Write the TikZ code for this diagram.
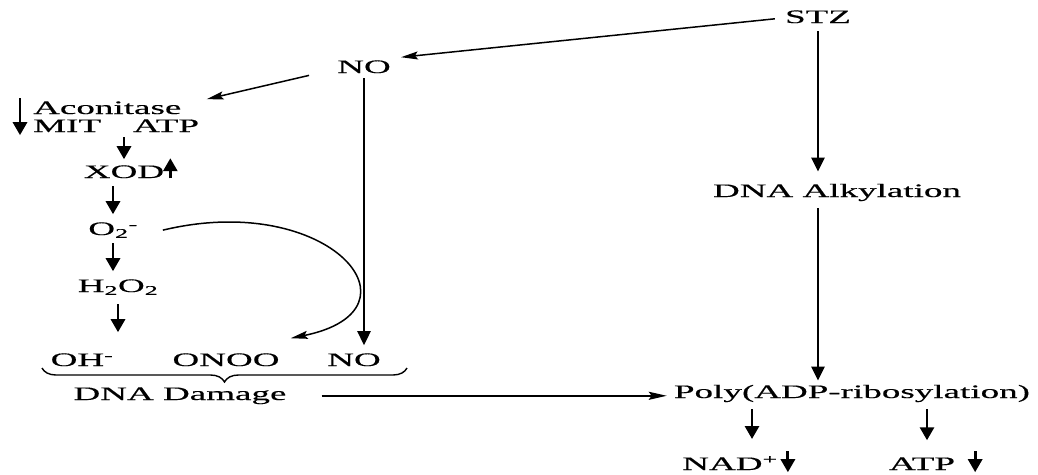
\documentclass[tikz,border=0pt]{standalone}
\usepackage{fontspec}
\setmainfont{Liberation Serif}[FakeStretch=1.95,FakeBold=0.4]
\usetikzlibrary{arrows.meta,decorations.pathreplacing}
\begin{document}
\begin{tikzpicture}[x=1pt,y=-1pt,
  txt/.style={inner sep=0pt, anchor=base, font=\fontsize{19}{22}\selectfont},
  smallarr/.style={line width=2.9pt, -{Triangle[length=13pt,width=14pt]}},
  longarr/.style={line width=2.5pt, -{Triangle[length=14pt,width=13pt]}},
  thinarr/.style={line width=1.5pt, -{Stealth[length=17pt,width=8pt,inset=3pt]}},
  medarr/.style={line width=2pt, -{Stealth[length=18pt,width=8pt,inset=3pt]}}]
\useasboundingbox (0,0) rectangle (1038,474);
\fill[white] (0,0) rectangle (1038,474);
% nodes
\node[txt] (stz) at (818,23) {STZ};
\node[txt] (no) at (364,73) {NO};
\node[txt, anchor=base west] (acon) at (33,114) {Aconitase};
\node[txt, anchor=base west] (mit) at (33,132) {MIT\hspace{32pt}ATP};
\node[txt] (xod) at (124,178) {XOD};
\node[txt] (o2) at (113,235) {O\textsubscript{2}\textsuperscript{-}};
\node[txt] (h2o2) at (118,292) {H\textsubscript{2}O\textsubscript{2}};
\node[txt] (oh) at (82,366) {OH\textsuperscript{-}};
\node[txt] (onoo) at (226,366) {ONOO};
\node[txt] (nob) at (354,366) {NO};
\node[txt] (dmg) at (180,400) {DNA Damage};
\node[txt] (alk) at (837,197) {DNA Alkylation};
\node[txt] (poly) at (852,398) {Poly(ADP-ribosylation)};
\node[txt] (nad) at (730,470) {NAD\textsuperscript{+}};
\node[txt] (atp) at (922,470) {ATP};
\coordinate (pa1) at (752,409);
\coordinate (pa2) at (927,409);
% connectors
\draw[thinarr] ([xshift=-10pt,yshift=-2pt]stz.west) -- ([xshift=10pt,yshift=3pt]no.north east);
\draw[thinarr] ([xshift=-28pt,yshift=-2pt]no.south west) -- ([xshift=25pt,yshift=2pt]acon.north east);
\draw[longarr, shorten <=5pt, shorten >=8pt] (no.south) -- (no.south |- nob.north);
\draw[longarr, shorten <=8pt, shorten >=12pt] (stz.south) -- (stz.south |- alk.north);
\draw[longarr, shorten <=7pt, shorten >=4pt] (stz.south |- alk.south) -- (stz.south |- poly.north);
\draw[medarr, shorten <=35pt, shorten >=7pt] (dmg.east) -- (dmg.east -| poly.west);
% left column arrows
\draw[smallarr] ([xshift=-13pt,yshift=3pt]acon.north west) -- ([xshift=-13pt,yshift=-3pt]mit.south west);
\draw[smallarr, shorten <=5pt, shorten >=6pt] (mit.south -| xod.north) -- (xod.north);
\draw[smallarr] ([xshift=6pt]xod.south east) -- ([xshift=6pt,yshift=7pt]xod.north east);
\draw[smallarr, shorten <=8pt, shorten >=8pt] (xod.south -| o2.north) -- (o2.north);
\draw[smallarr, shorten <=5pt, shorten >=8pt] (o2.south) -- (o2.south |- h2o2.north);
\draw[smallarr, shorten <=9pt, shorten >=21pt] (h2o2.south) -- (h2o2.south |- oh.north);
\draw[thinarr] ([xshift=25pt]o2.east) .. controls (330,190) and (430,310) .. ([xshift=11pt,yshift=15pt]onoo.north east);
% brace
\draw[line width=1.4pt, decorate, decoration={brace, mirror, amplitude=14pt}] (42,368) -- (407,368);
% bottom arrows
\draw[smallarr, shorten >=17pt] (pa1) -- (pa1 |- nad.north);
\draw[smallarr, shorten >=17pt] (pa2) -- (pa2 |- atp.north);
\draw[smallarr] ([xshift=10pt,yshift=5pt]nad.north east) -- ([xshift=10pt,yshift=-2pt]nad.south east);
\draw[smallarr] ([xshift=20pt,yshift=6pt]atp.north east) -- ([xshift=20pt,yshift=-2pt]atp.south east);
\end{tikzpicture}
\end{document}
